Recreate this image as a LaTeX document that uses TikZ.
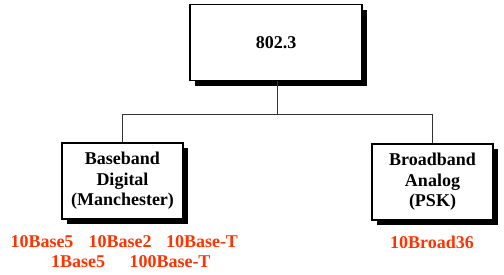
\documentclass[tikz,border=0pt]{standalone}
\usepackage{fontspec}
\setmainfont{Liberation Serif}
\usetikzlibrary{positioning, shadows}
\definecolor{LabelRed}{HTML}{FF3300}
\tikzset{
    box/.style={draw=black, line width=1.4pt, fill=white, align=center, font=\bfseries\fontsize{18}{20.6}\selectfont, minimum height=76pt, inner sep=0pt,
        drop shadow={shadow xshift=5pt, shadow yshift=-5pt, fill=black, opacity=1}},
    std/.style={text=LabelRed, font=\bfseries\fontsize{18}{20}\selectfont, inner sep=0pt},
    link/.style={draw=black!80, line width=1pt}
}
\begin{document}
\begin{tikzpicture}[x=1pt, y=1pt]
    \useasboundingbox (0,0) rectangle (504,-274);
    % Standard and its two signalling classes
    \node[box, minimum width=172pt] (ieee) at (276,-42.5) {802.3};
    \node[box, minimum width=121pt] (base) at (122.5,-181) {Baseband\\Digital\\(Manchester)};
    \node[box, minimum width=121pt] (broad) at (432.5,-182) {Broadband\\Analog\\(PSK)};

    % Tree connectors
    \coordinate (bus) at (277,-114);
    \draw[link] (ieee.south -| bus) -- (bus);
    \draw[link] (bus) -| (base.north);
    \draw[link] (bus) -| (broad.north);

    % Media under each class
    \node[std] (b5) at (42,-242) {10Base5};
    \node[std] (b2) at (120,-242) {10Base2};
    \node[std] (bt) at (202,-242) {10Base-T};
    \node[std] (b15) at (78,-262) {1Base5};
    \node[std] (b100) at (170,-262) {100Base-T};
    \node[std] (br36) at (432,-242) {10Broad36};
\end{tikzpicture}
\end{document}
